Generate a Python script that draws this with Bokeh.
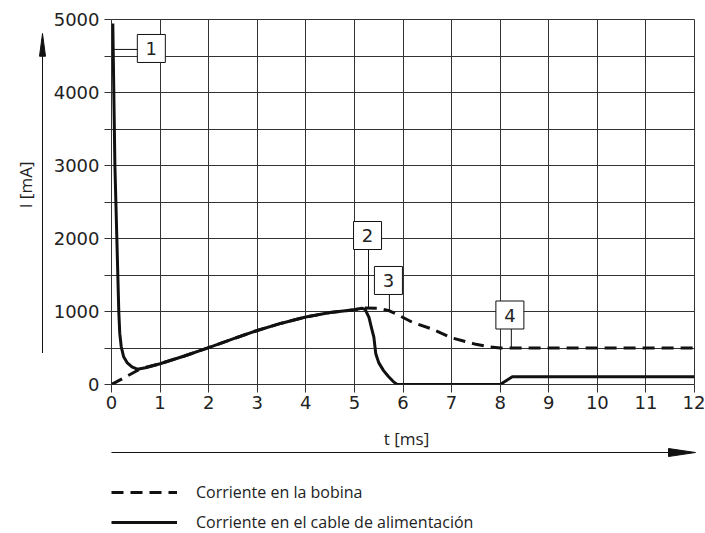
import math
from bokeh.plotting import figure
from bokeh.layouts import column, row
from bokeh.models import Range1d, FixedTicker, Legend, LegendItem
from bokeh.embed import file_html
from bokeh.resources import INLINE
from bokeh.core.properties import value

# ---- data ----
supply_t = [0.027, 0.07, 0.11, 0.15, 0.17, 0.2, 0.25, 0.32, 0.42, 0.53, 0.7, 1.0, 1.5, 2.0, 2.5,
            3.0, 3.5, 4.0, 4.5, 5.0, 5.15, 5.22, 5.3, 5.35, 5.4, 5.44, 5.5, 5.6, 5.7, 5.8, 5.88,
            8.0, 8.25, 12.0]
supply_I = [4945, 3000, 2000, 1000, 700, 520, 380, 300, 240, 210, 230, 285, 390, 505, 625,
            740, 840, 925, 985, 1025, 1045, 1030, 920, 780, 650, 420, 300, 190, 110, 40, 0,
            0, 105, 105]
coil_t = [0.0, 0.6, 1.0, 1.5, 2.0, 2.5, 3.0, 3.5, 4.0, 4.5, 5.0, 5.2, 5.5, 5.72, 5.85,
          6.2, 6.6, 7.0, 7.5, 7.8, 8.0, 12.0]
coil_I = [0, 215, 285, 390, 505, 625, 740, 840, 925, 985, 1025, 1048, 1045, 1010, 970,
          850, 760, 640, 550, 515, 500, 500]

x_ticks = list(range(0, 13))
y_ticks = [0, 1000, 2000, 3000, 4000, 5000]
y_minor = [500, 1500, 2500, 3500, 4500]

callout_labels = ["1", "2", "3", "4"]
callout_x = [0.82, 5.27, 5.70, 8.20]
callout_y = [4603, 2041, 1425, 952]
lead_x0 = [0.04, 5.29, 5.72, 8.23]
lead_y0 = [4590, 1055, 1014, 507]
lead_x1 = [0.535, 5.29, 5.72, 8.23]
lead_y1 = [4590, 1849, 1233, 767]

x_label = "t [ms]"
y_label = "I [mA]"
legend_labels = ["Corriente en la bobina", "Corriente en el cable de alimentación"]

GRID = "#333333"
INK = "#111111"
TXT = "#222222"
BAND = "#a8d4e8"

# ---- geometry (window pixels) ----
W = 705
BAND_H = 3
LEFT_W = 48
ROW_H = 417          # window y 3 .. 420
BOT_H = 113          # window y 420 .. 533
PX_PER_MS = 583 / 12.0
PX_PER_MA = 365 / 5000.0
X0_PX = 111          # window x of t = 0
Y0_PX = 384          # window y of I = 0


def t_at(px):
    return (px - X0_PX) / PX_PER_MS


def i_at(py):
    return (Y0_PX - py) / PX_PER_MA


def bare(fig):
    fig.xaxis.visible = False
    fig.yaxis.visible = False
    fig.xgrid.visible = False
    fig.ygrid.visible = False
    fig.outline_line_color = None
    fig.min_border = 0
    return fig


# ---- top band ----
p_top = bare(figure(width=W, height=BAND_H, output_backend="svg", toolbar_location=None,
                    x_range=Range1d(0, 1), y_range=Range1d(0, 1)))
p_top.background_fill_color = BAND
p_top.border_fill_color = BAND

# ---- left strip: y arrow + y label ----
p_left = bare(figure(width=LEFT_W, height=ROW_H, output_backend="svg", toolbar_location=None,
                     x_range=Range1d(t_at(0), t_at(LEFT_W)),
                     y_range=Range1d(i_at(BAND_H + ROW_H), i_at(BAND_H))))
ax_x = t_at(42)
head_base = i_at(45)
p_left.segment(x0=[ax_x], y0=[0], x1=[ax_x], y1=[head_base], line_color=INK, line_width=1)
p_left.patch(x=[ax_x - 3 / PX_PER_MS, ax_x, ax_x + 3 / PX_PER_MS],
             y=[head_base, 5000, head_base], fill_color=INK, line_color=INK, line_width=1)
p_left.text(x=[t_at(25)], y=[i_at(192)], text=[y_label], angle=math.pi / 2,
            text_align="center", text_baseline="middle", text_font=value("Open Sans"),
            text_font_size="17px", text_color=TXT)

# ---- main chart ----
p = figure(width=W - LEFT_W, height=ROW_H, x_range=Range1d(0, 12), y_range=Range1d(0, 5000),
           output_backend="svg", toolbar_location=None,
           min_border_left=X0_PX - LEFT_W, min_border_right=W - 694,
           min_border_top=19 - BAND_H, min_border_bottom=BAND_H + ROW_H - Y0_PX)
p.outline_line_color = GRID
p.background_fill_color = "white"
p.border_fill_color = "white"

p.xaxis.ticker = FixedTicker(ticks=x_ticks)
p.yaxis.ticker = FixedTicker(ticks=y_ticks, minor_ticks=y_minor)
p.xgrid.ticker = FixedTicker(ticks=x_ticks)
p.ygrid.ticker = FixedTicker(ticks=sorted(y_ticks + y_minor))
for g in (p.xgrid, p.ygrid):
    g.grid_line_color = GRID
    g.grid_line_width = 1
    g.grid_line_alpha = 1

for ax in (p.xaxis, p.yaxis):
    ax.axis_line_color = None
    ax.major_tick_line_color = GRID
    ax.major_tick_in = 0
    ax.major_label_text_font = "DejaVu Sans"
    ax.major_label_text_font_size = "18px"
    ax.major_label_text_color = TXT
p.xaxis.major_tick_out = 8
p.xaxis.minor_tick_line_color = None
p.xaxis.major_label_standoff = 3
p.yaxis.major_tick_out = 7
p.yaxis.minor_tick_out = 7
p.yaxis.minor_tick_in = 0
p.yaxis.minor_tick_line_color = GRID
p.yaxis.major_label_standoff = 5

p.line(coil_t, coil_I, line_width=3, line_dash="12 7", line_color=INK, line_join="round")
p.line(supply_t, supply_I, line_width=3, line_color=INK, line_join="round")

p.segment(lead_x0, lead_y0, lead_x1, lead_y1, line_color=INK, line_width=1)
p.rect(x=callout_x, y=callout_y, width=28, height=28, width_units="screen", height_units="screen",
       fill_color="white", line_color=INK, line_width=1)
p.text(x=callout_x, y=callout_y, text=callout_labels, text_align="center", text_baseline="middle",
       text_font=value("DejaVu Sans"), text_font_size="18px", text_color=TXT)

# ---- bottom strip: x label, x arrow, legend ----
top_y = BAND_H + ROW_H
p_bot = bare(figure(width=W, height=BOT_H, output_backend="svg", toolbar_location=None,
                    x_range=Range1d(t_at(0), t_at(W)),
                    y_range=Range1d(top_y + BOT_H, top_y)))
p_bot.text(x=[t_at(406)], y=[438], text=[x_label], text_align="center", text_baseline="middle",
           text_font=value("Open Sans"), text_font_size="17px", text_color=TXT)
arrow_y = 452
head_start = t_at(668)
p_bot.segment(x0=[0], y0=[arrow_y], x1=[head_start], y1=[arrow_y], line_color=INK, line_width=1)
p_bot.patch(x=[head_start, t_at(695), head_start], y=[arrow_y - 4, arrow_y, arrow_y + 4],
            fill_color=INK, line_color=INK, line_width=1)

nan = float("nan")
r_coil = p_bot.line(x=[nan], y=[nan], line_width=3, line_dash="12 7", line_color=INK)
r_supply = p_bot.line(x=[nan], y=[nan], line_width=3, line_color=INK)
legend = Legend(items=[LegendItem(label=legend_labels[0], renderers=[r_coil]),
                       LegendItem(label=legend_labels[1], renderers=[r_supply])],
                location=(X0_PX, 0), glyph_width=66, glyph_height=22, label_height=22,
                spacing=8, padding=0, margin=0, border_line_color=None,
                background_fill_alpha=0, label_standoff=19,
                label_text_font="Open Sans", label_text_font_size="16px",
                label_text_color=TXT)
p_bot.add_layout(legend)

layout = column(p_top, row(p_left, p), p_bot, spacing=0)
open("out.html", "w").write(file_html(layout, INLINE))
